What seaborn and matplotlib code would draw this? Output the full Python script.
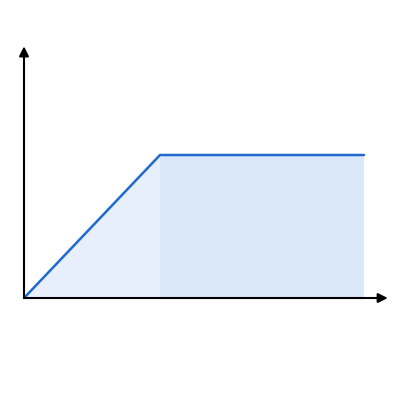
import matplotlib
matplotlib.use('Agg')
import matplotlib.pyplot as plt
import seaborn as sns
import pandas as pd

# curve: rises, then plateaus
x_vals = [0, 4, 10]
y_vals = [0, 5, 5]
ramp_x = [0, 4]
ramp_y = [0, 5]
plateau_x = [4, 10]
plateau_y = [5, 5]

sns.set_style('white')

fig = plt.figure(figsize=(4, 4), dpi=100)
ax = fig.add_axes([0, 0, 1, 1])
ax.set_xlim(-0.706, 11.06)
ax.set_ylim(-3.566, 10.42)
ax.axis('off')

ax.fill_between(ramp_x, ramp_y, 0, color='#e7eefc', linewidth=0)
ax.fill_between(plateau_x, plateau_y, 0, color='#dbe7fb', linewidth=0)

df = pd.DataFrame({'x': x_vals, 'y': y_vals})
sns.lineplot(data=df, x='x', y='y', ax=ax, color='#1f6ad0', linewidth=1.8, sort=False)

arrow = dict(arrowstyle='-|>', color='black', lw=1.5, mutation_scale=14, shrinkA=0, shrinkB=0)
ax.annotate('', xy=(10.7, 0), xytext=(0, 0), arrowprops=arrow)
ax.annotate('', xy=(0, 8.8), xytext=(0, 0), arrowprops=arrow)

fig.savefig('out.png', dpi=100, facecolor='white')
